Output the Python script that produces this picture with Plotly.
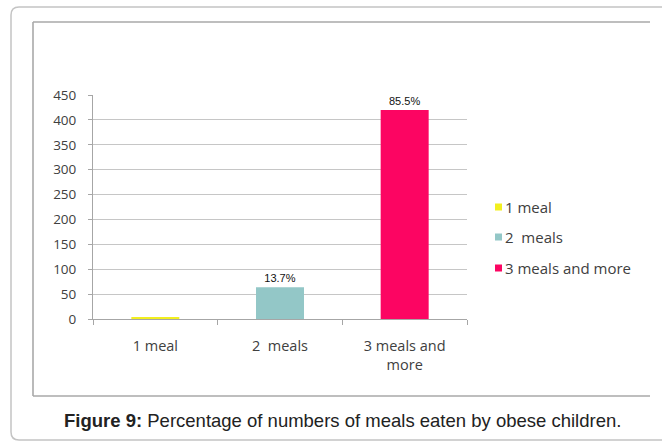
import plotly.graph_objects as go

# Meal-count categories, bar values and the percentage shown on each bar
categories = ["1 meal", "2\u00a0 meals", "3 meals and more"]
tick_labels = ["1 meal", "2\u00a0 meals", "3 meals and<br>more"]
counts = [3, 64, 420]
pct_labels = ["", "13.7%", "85.5%"]
colors = ["#f2ef1f", "#93c7c7", "#fc0562"]

W, H = 662, 441


def px(x):
    return x / W


def py(y):
    return 1 - y / H


fig = go.Figure()
fig.add_trace(go.Bar(
    x=tick_labels,
    y=counts,
    marker=dict(color=colors, line=dict(width=0)),
    width=0.385,
    text=pct_labels,
    textposition="outside",
    constraintext="none",
    cliponaxis=False,
    outsidetextfont=dict(family="Liberation Sans, Arial", size=11, color="#111111"),
    showlegend=False,
    hoverinfo="skip",
))

shapes = []
# outer rounded frame (open on the right)
r = 8
x0, y0, y1 = 11, 7, 440
path = (f"M {px(W + 5)},{py(y0)} L {px(x0 + r)},{py(y0)} "
        f"Q {px(x0)},{py(y0)} {px(x0)},{py(y0 + r)} "
        f"L {px(x0)},{py(y1 - r)} Q {px(x0)},{py(y1)} {px(x0 + r)},{py(y1)} "
        f"L {px(W + 5)},{py(y1)}")
shapes.append(dict(type="path", xref="paper", yref="paper", path=path,
                   line=dict(color="#c4c4c4", width=1.5)))
# chart box: left, top and bottom edges
bx0, by0, bx1, by1 = 33, 22, 650, 396
for (xa, ya, xb, yb) in [(bx0, by0, bx0, by1), (bx0, by0, bx1, by0), (bx0, by1, bx1, by1)]:
    shapes.append(dict(type="line", xref="paper", yref="paper",
                       x0=px(xa), y0=py(ya), x1=px(xb), y1=py(yb),
                       line=dict(color="#a9a9a9", width=1.6)))

# legend swatches and labels
annotations = []
leg_y = [207, 237, 268]
for name, col, ly in zip(categories, colors, leg_y):
    shapes.append(dict(type="rect", xref="paper", yref="paper",
                       x0=px(495), x1=px(502), y0=py(ly - 3.5), y1=py(ly + 3.5),
                       fillcolor=col, line=dict(width=0)))
    annotations.append(dict(xref="paper", yref="paper", x=px(503), y=py(ly),
                            xanchor="left", yanchor="middle", showarrow=False,
                            text=name,
                            font=dict(family="Open Sans", size=15, color="#404040")))

# figure caption
annotations.append(dict(xref="paper", yref="paper", x=px(342), y=py(420),
                        xanchor="center", yanchor="middle", showarrow=False,
                        text="<b>Figure 9:</b> Percentage of numbers of meals eaten by obese children.",
                        font=dict(family="Liberation Sans, Arial", size=18.5, color="#222222")))

fig.update_layout(
    width=W, height=H,
    margin=dict(l=0, r=0, t=0, b=0),
    paper_bgcolor="white", plot_bgcolor="white",
    shapes=shapes, annotations=annotations,
    bargap=0.6,
    xaxis=dict(
        domain=[px(93), px(467)],
        type="category",
        showgrid=False,
        showline=True, linecolor="#a6a6a6", linewidth=1,
        ticks="outside", tickson="boundaries", ticklen=5, tickcolor="#a6a6a6",
        tickfont=dict(family="Open Sans", size=14.5, color="#404040"),
        ticklabelstandoff=14,
        automargin=False,
        fixedrange=True,
    ),
    yaxis=dict(
        domain=[py(319), py(95)],
        range=[0, 450], dtick=50,
        showgrid=True, gridcolor="#c6c6c6", gridwidth=1,
        showline=True, linecolor="#a6a6a6", linewidth=1,
        ticks="outside", ticklen=4, tickcolor="#a6a6a6",
        tickfont=dict(family="Open Sans", size=13.5, color="#404040"),
        ticklabelstandoff=9,
        zeroline=False,
        automargin=False,
        fixedrange=True,
    ),
    showlegend=False,
)

fig.write_html("out.html")
